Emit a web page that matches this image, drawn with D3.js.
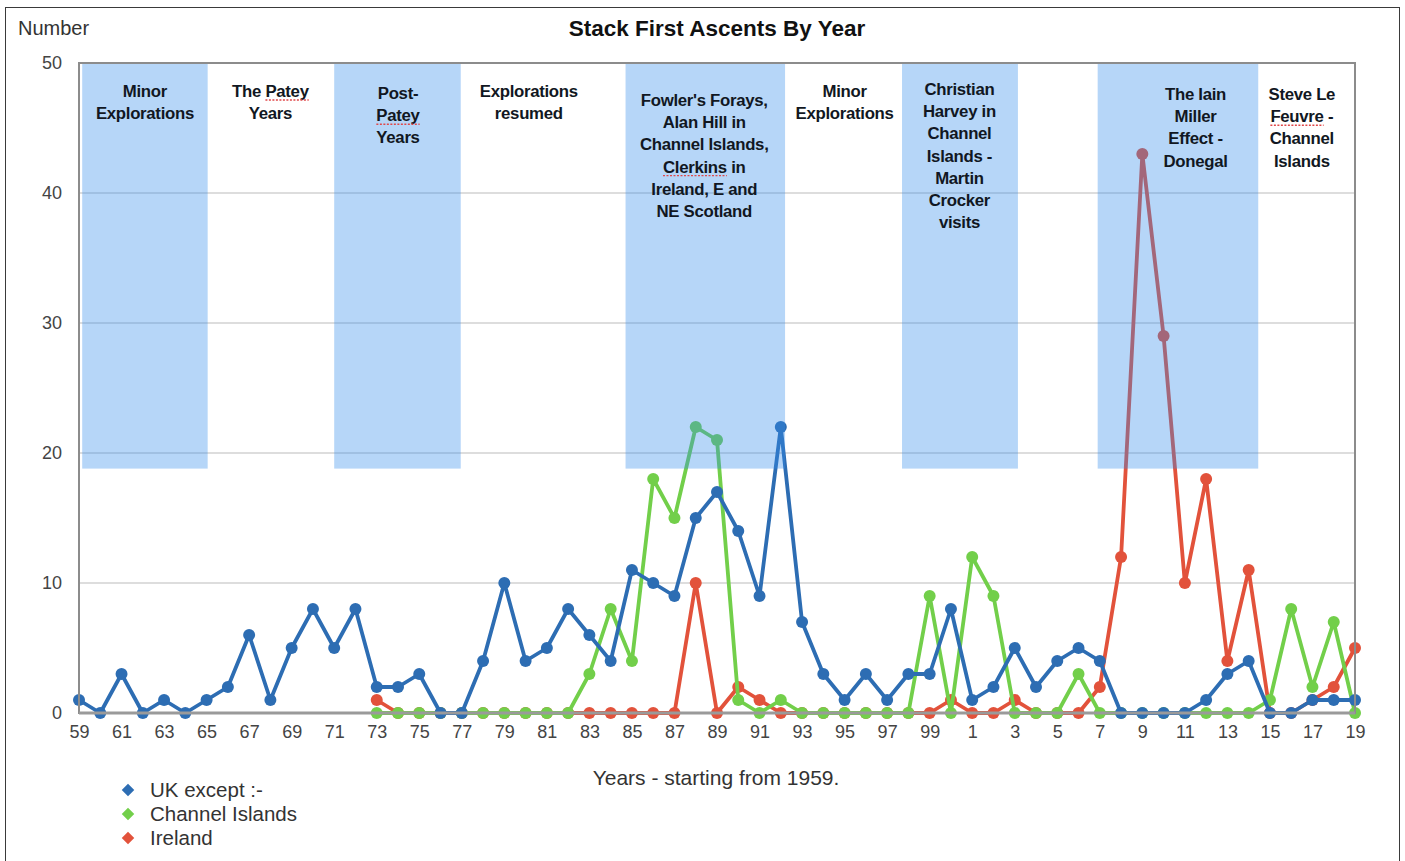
<!DOCTYPE html>
<html><head><meta charset="utf-8">
<script src="https://cdn.jsdelivr.net/npm/d3@7/dist/d3.min.js"></script>
<style>body{margin:0;background:#fff}svg{display:block}</style>
</head><body>
<svg id="c" width="1405" height="861"></svg>
<script>
// ---------- data ----------
const years = [1959,1960,1961,1962,1963,1964,1965,1966,1967,1968,1969,1970,1971,1972,1973,1974,1975,1976,1977,1978,1979,1980,1981,1982,1983,1984,1985,1986,1987,1988,1989,1990,1991,1992,1993,1994,1995,1996,1997,1998,1999,2000,2001,2002,2003,2004,2005,2006,2007,2008,2009,2010,2011,2012,2013,2014,2015,2016,2017,2018,2019];
const ukValues = [1,0,3,0,1,0,1,2,6,1,5,8,5,8,2,2,3,0,0,4,10,4,5,8,6,4,11,10,9,15,17,14,9,22,7,3,1,3,1,3,3,8,1,2,5,2,4,5,4,0,0,0,0,1,3,4,0,0,1,1,1];
const channelValues = [null,null,null,null,null,null,null,null,null,null,null,null,null,null,0,0,0,0,0,0,0,0,0,0,3,8,4,18,15,22,21,1,0,1,0,0,0,0,0,0,9,0,12,9,0,0,0,3,0,0,0,0,0,0,0,0,1,8,2,7,0];
const irelandValues = [null,null,null,null,null,null,null,null,null,null,null,null,null,null,1,0,0,0,0,0,0,0,0,0,0,0,0,0,0,10,0,2,1,0,0,0,0,0,0,0,0,1,0,0,1,0,0,0,2,12,43,29,10,18,4,11,0,0,1,2,5];
const seriesNames = ["UK except :-","Channel Islands","Ireland"];
const tickYears = [1959,1961,1963,1965,1967,1969,1971,1973,1975,1977,1979,1981,1983,1985,1987,1989,1991,1993,1995,1997,1999,2001,2003,2005,2007,2009,2011,2013,2015,2017,2019];
const tickLabels = ["59","61","63","65","67","69","71","73","75","77","79","81","83","85","87","89","91","93","95","97","99","1","3","5","7","9","11","13","15","17","19"];
const yTicks = [0,10,20,30,40,50];
// shaded periods (start year, end year) and their labels
const periodStart = [1959.15, 1971.0, 1984.7, 1997.7, 2006.9];
const periodEnd   = [1965.05, 1976.95, 1992.2, 2003.15, 2014.45];
const periodTopValue = 50, periodBottomValue = 18.8;
const labelYears = [1962.1, 1968.0, 1974.0, 1980.15, 1988.4, 1995.0, 2000.4, 2011.5, 2016.5];
const labelLines = [
  ["Minor","Explorations"],
  ["The Patey","Years"],
  ["Post-","Patey","Years"],
  ["Explorations","resumed"],
  ["Fowler's Forays,","Alan Hill in","Channel Islands,","Clerkins in","Ireland, E and","NE Scotland"],
  ["Minor","Explorations"],
  ["Christian","Harvey in","Channel","Islands -","Martin","Crocker","visits"],
  ["The Iain","Miller","Effect -","Donegal"],
  ["Steve Le","Feuvre -","Channel","Islands"]
];
const spellWords = ["Patey","Clerkins","Feuvre"];

// ---------- layout ----------
const labelTop = [91,91,93,91,100,91,89,94,94];
const M = {left:79, right:1355, top:63, bottom:713};
const colors = ["#2d6db3","#72cf4a","#e2523b"];
const FONT = "'Liberation Sans', Arial, Helvetica, sans-serif";

const svg = d3.select("#c");
const x = d3.scaleLinear().domain([1959,2019]).range([M.left, M.right]);
const y = d3.scaleLinear().domain([0,50]).range([M.bottom, M.top]);

// outer frame
svg.append("rect").attr("x",5.5).attr("y",7.5).attr("width",1394).attr("height",870)
  .attr("fill","#fff").attr("stroke","#3a3a3a").attr("stroke-width",1);

// gridlines
svg.append("g").selectAll("line").data(yTicks.filter(d=>d>0 && d<50)).join("line")
  .attr("x1",M.left).attr("x2",M.right).attr("y1",d=>y(d)).attr("y2",d=>y(d))
  .attr("stroke","#d2d2d2").attr("stroke-width",1.5);

// y axis labels
const yAxis = d3.axisLeft(y).tickValues(yTicks).tickSize(0).tickPadding(17);
const gy = svg.append("g").attr("transform",`translate(${M.left},0)`).call(yAxis);
gy.select(".domain").remove();
gy.selectAll("text").attr("font-family",FONT).attr("font-size",18).attr("fill","#444");

// x axis labels
const xAxis = d3.axisBottom(x).tickValues(tickYears).tickFormat((d,i)=>tickLabels[i]).tickSize(0).tickPadding(12);
const gx = svg.append("g").attr("transform",`translate(0,${M.bottom})`).call(xAxis);
gx.select(".domain").remove();
gx.selectAll("text").attr("font-family",FONT).attr("font-size",18).attr("fill","#444");

// series
const allSeries = [ukValues, channelValues, irelandValues];
const drawOrder = [2,1,0];
const line = d3.line().defined(d=>d.v!==null).x(d=>x(d.y)).y(d=>y(d.v));
drawOrder.forEach(si=>{
  const pts = years.map((yr,i)=>({y:yr, v:allSeries[si][i]}));
  const g = svg.append("g");
  g.append("path").datum(pts).attr("d",line).attr("fill","none")
    .attr("stroke",colors[si]).attr("stroke-width",3.8).attr("stroke-linejoin","round");
  g.selectAll("circle").data(pts.filter(d=>d.v!==null)).join("circle")
    .attr("cx",d=>x(d.y)).attr("cy",d=>y(d.v)).attr("r",6).attr("fill",colors[si]);
});

// shaded periods (semi-transparent, over the lines)
svg.append("g").selectAll("rect").data(periodStart).join("rect")
  .attr("x",(d,i)=>x(d)).attr("width",(d,i)=>x(periodEnd[i])-x(d))
  .attr("y",y(periodTopValue)).attr("height",y(periodBottomValue)-y(periodTopValue))
  .attr("fill","rgb(52,140,236)").attr("fill-opacity",0.36);

// plot frame
svg.append("rect").attr("x",M.left).attr("y",M.top).attr("width",M.right-M.left).attr("height",M.bottom-M.top)
  .attr("fill","none").attr("stroke","#8c8c8c").attr("stroke-width",2);
svg.append("line").attr("x1",M.left).attr("x2",M.right).attr("y1",M.bottom).attr("y2",M.bottom)
  .attr("stroke","#9a9a9a").attr("stroke-width",3);

// period labels
const lg = svg.append("g");
labelLines.forEach((lines,i)=>{
  lines.forEach((t,j)=>{
    const cx = x(labelYears[i]);
    const by = labelTop[i] + 6 + j*22.2;
    const tx = lg.append("text").attr("x",cx).attr("y",by).attr("text-anchor","middle")
      .attr("font-family",FONT).attr("font-weight","bold").attr("font-size",16.8)
      .attr("letter-spacing",-0.3).attr("fill","#111722").text(t);
    spellWords.forEach(w=>{
      const k = t.indexOf(w);
      if(k>=0){
        const node = tx.node();
        const total = node.getComputedTextLength();
        const start = cx - total/2 + (k>0 ? node.getSubStringLength(0,k) : 0);
        const wlen = node.getSubStringLength(k,w.length);
        lg.append("line").attr("x1",start).attr("x2",start+wlen).attr("y1",by+3).attr("y2",by+3)
          .attr("stroke","#e0484a").attr("stroke-width",1.4).attr("stroke-dasharray","2,1.5");
      }
    });
  });
});

// title & axis titles
svg.append("text").attr("x",717).attr("y",36).attr("text-anchor","middle")
  .attr("font-family",FONT).attr("font-weight","bold").attr("font-size",22.5).attr("fill","#111")
  .text("Stack First Ascents By Year");
svg.append("text").attr("x",18).attr("y",35)
  .attr("font-family",FONT).attr("font-size",20).attr("fill","#333").text("Number");
svg.append("text").attr("x",716).attr("y",785).attr("text-anchor","middle")
  .attr("font-family",FONT).attr("font-size",21).attr("fill","#333").text("Years - starting from 1959.");

// legend
const leg = svg.append("g");
seriesNames.forEach((n,i)=>{
  const cy = 790 + i*24;
  leg.append("path").attr("d",d3.symbol(d3.symbolDiamond2, 100)())
    .attr("transform",`translate(128,${cy})`).attr("fill",colors[i]);
  leg.append("text").attr("x",150).attr("y",cy+7)
    .attr("font-family",FONT).attr("font-size",20.5).attr("fill","#333").text(n);
});
</script>
</body></html>
